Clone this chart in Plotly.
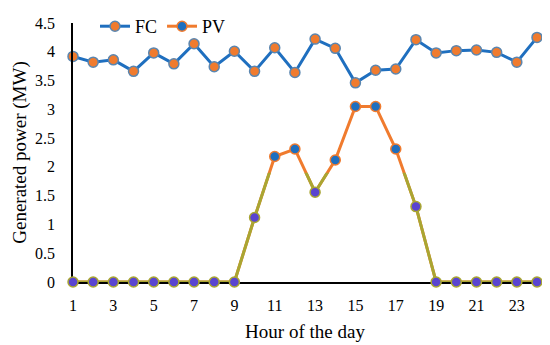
import plotly.graph_objects as go

hours = list(range(1, 25))
fc = [3.92, 3.82, 3.86, 3.66, 3.98, 3.79, 4.14, 3.74, 4.01, 3.66, 4.07, 3.64,
      4.22, 4.06, 3.46, 3.68, 3.70, 4.21, 3.98, 4.02, 4.03, 3.99, 3.82, 4.25]
pv = [0, 0, 0, 0, 0, 0, 0, 0, 0, 1.12, 2.18, 2.31,
      1.56, 2.12, 3.05, 3.05, 2.31, 1.31, 0, 0, 0, 0, 0, 0]
x_ticks = list(range(1, 25, 2))
y_ticks = [0, 0.5, 1, 1.5, 2, 2.5, 3, 3.5, 4, 4.5]

BLUE = "#1f6fbf"
ORANGE = "#f07b2e"
OLIVE = "#a9a632"
PURPLE = "#5a44d0"
THR = 1.9
YMAX = 4.5

font = "Liberation Serif, Times New Roman, serif"

# page body has an 8px default margin, so the figure is 8px smaller
W, H = 542, 337

pv_mcol = [PURPLE if v < THR else BLUE for v in pv]
pv_lcol = [OLIVE if v < THR else ORANGE for v in pv]

fig = go.Figure()
fig.add_trace(go.Scatter(
    x=hours, y=fc, name="FC", mode="lines+markers",
    line=dict(color=BLUE, width=3),
    marker=dict(size=10, color=ORANGE, line=dict(color="#5a86b0", width=1.5)),
    cliponaxis=False))
fig.add_trace(go.Scatter(
    x=hours, y=pv, name="PV", mode="lines",
    line=dict(color=ORANGE, width=3), showlegend=False, cliponaxis=False))
# olive tint on lower portion of PV line (clipped by subplot domain)
fig.add_trace(go.Scatter(
    x=hours, y=pv, mode="lines", xaxis="x2", yaxis="y2",
    line=dict(color=OLIVE, width=3), showlegend=False, cliponaxis=True))
fig.add_trace(go.Scatter(
    x=hours, y=pv, mode="markers", xaxis="x3", yaxis="y3",
    marker=dict(size=10, color=pv_mcol, line=dict(color=pv_lcol, width=1.5)),
    cliponaxis=False, showlegend=False))
# legend entry for PV
fig.add_trace(go.Scatter(
    x=[None], y=[None], name="PV", mode="lines+markers",
    line=dict(color=ORANGE, width=3),
    marker=dict(size=10, color=BLUE, line=dict(color=ORANGE, width=1.5))))

fig.update_layout(
    width=W, height=H,
    margin=dict(l=65, r=13, t=15, b=63, autoexpand=False),
    paper_bgcolor="white", plot_bgcolor="rgba(0,0,0,0)",
    font=dict(family=font, size=16, color="black"),
    showlegend=True,
    legend=dict(orientation="h", xref="container", yref="container",
                x=87 / W, xanchor="left", y=1, yanchor="top",
                font=dict(size=18), itemwidth=30, tracegroupgap=0,
                bgcolor="rgba(0,0,0,0)"),
    xaxis=dict(range=[1, 24], tickvals=x_ticks, showgrid=False, zeroline=False,
               showline=True, linecolor="black", linewidth=1.5, ticks="",
               ticklabelstandoff=8, automargin=False,
               title=dict(text="Hour of the day", standoff=12)),
    yaxis=dict(range=[0, YMAX], tickvals=y_ticks, ticktext=[f"{v:g}" for v in y_ticks],
               showgrid=False, zeroline=False,
               showline=True, linecolor="black", linewidth=1.5, ticks="",
               ticklabelstandoff=13, automargin=False,
               title=dict(text="Generated power (MW)", standoff=3)),
    xaxis2=dict(range=[1, 24], domain=[0, 1], visible=False, anchor="y2"),
    yaxis2=dict(range=[0, THR], domain=[0, THR / YMAX], visible=False, anchor="x2"),
    xaxis3=dict(range=[1, 24], domain=[0, 1], visible=False, anchor="y3"),
    yaxis3=dict(range=[0, YMAX], domain=[0, 1], visible=False, anchor="x3"),
)

fig.write_html("out.html")
